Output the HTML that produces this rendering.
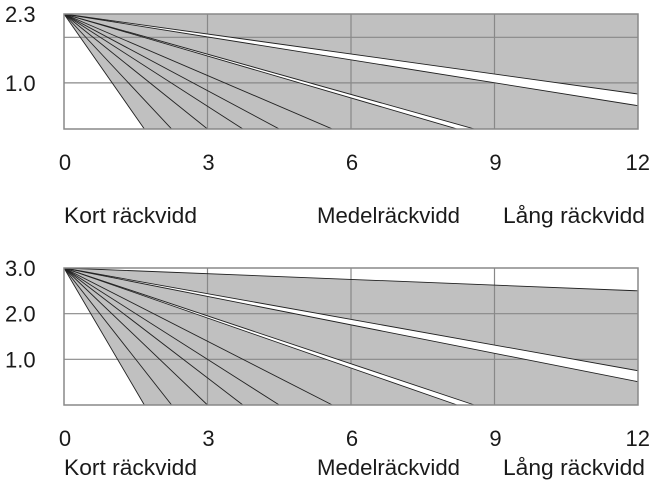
<!DOCTYPE html>
<html><head><meta charset="utf-8"><style>
html,body{margin:0;padding:0;background:#fff;}
svg{display:block;font-family:"Liberation Sans",sans-serif;}
text{fill:#1a1a1a;font-size:22px;}
</style></head><body>
<svg id="c" width="667" height="501" viewBox="0 0 667 501"></svg>
<script>
const xTicks=[0,3,6,9,12];
const topYTicks=[2.3,1.0];
const topGrid=[1.86,1.0];
const topDomain=[0.13,2.3];
const topBottomEnds=[1.68,2.25,3.0,3.74,4.5,5.61,8.22,8.58];
const topRightEnds=[0.79,0.57];
const botYTicks=[3.0,2.0,1.0];
const botDomain=[0,3];
const botBottomEnds=[1.68,2.25,3.0,3.74,4.5,5.61,8.22,8.58];
const botRightEnds=[2.5,0.75,0.51];
const rangeLabels=["Kort räckvidd","Medelräckvidd","Lång räckvidd"];
const NS="http://www.w3.org/2000/svg";
const svg=document.getElementById('c');
function el(t,a,p){const e=document.createElementNS(NS,t);for(const k in a)e.setAttribute(k,a[k]);(p||svg).appendChild(e);return e;}
function chart(name,box,dom,yTicks,grid,bEnds,rEnds,topWhite,tickY,labY){
  const g=el('g',{});
  
  
  const xs=v=>box.x0+(box.x1-box.x0)*v/12;
  const ys=v=>box.y1-(box.y1-box.y0)*(v-dom[0])/(dom[1]-dom[0]);
  const ox=xs(0),oy=box.y0;
  let pts=[[ox,oy]];
  if(topWhite){pts.push([box.x1,ys(rEnds[0])]);}else{pts.push([box.x1,box.y0]);}
  pts.push([box.x1,box.y1]);pts.push([xs(bEnds[0]),box.y1]);
  const f=el('polygon',{points:pts.map(p=>p.join(',')).join(' '),fill:'#c0c0c0'},g);
  
  
  [3,6,9].forEach(v=>{const l=el('line',{x1:xs(v),x2:xs(v),y1:box.y0,y2:box.y1,stroke:'#888','stroke-width':1.2},g);
    
    });
  grid.forEach(v=>{const l=el('line',{x1:box.x0,x2:box.x1,y1:ys(v),y2:ys(v),stroke:'#888','stroke-width':1.2},g);
    
    });
  const n=bEnds.length;
  const b1=el('polygon',{points:`${ox},${oy} ${xs(bEnds[n-2])},${box.y1} ${xs(bEnds[n-1])},${box.y1}`,fill:'#fff'},g);
  
  
  const m=rEnds.length;
  const b2=el('polygon',{points:`${ox},${oy} ${box.x1},${ys(rEnds[m-2])} ${box.x1},${ys(rEnds[m-1])}`,fill:'#fff'},g);
  
  
  bEnds.forEach(v=>{const l=el('line',{x1:ox,y1:oy,x2:xs(v),y2:box.y1,stroke:'#222','stroke-width':0.9},g);
    
    });
  rEnds.forEach(v=>{const l=el('line',{x1:ox,y1:oy,x2:box.x1,y2:ys(v),stroke:'#222','stroke-width':0.9},g);
    
    });
  const r=el('rect',{x:box.x0,y:box.y0,width:box.x1-box.x0,height:box.y1-box.y0,fill:'none',stroke:'#888','stroke-width':1.5},g);
  
  
  yTicks.forEach(v=>{const t=el('text',{x:5,y:ys(v)+8},g);t.textContent=v.toFixed(1);
    
    });
  xTicks.forEach(v=>{const t=el('text',{x:v===12?xs(v)+12:xs(v)+1,y:tickY,'text-anchor':v===12?'end':'middle'},g);t.textContent=v;
    
    });
  const lx=[64,317,503];
  const lw=[133,143,142];
  rangeLabels.forEach((s,i)=>{const t=el('text',{x:lx[i],y:labY,textLength:lw[i],lengthAdjust:'spacingAndGlyphs'},g);t.textContent=s;
    
    });
}
chart('top-chart',{x0:64,x1:638,y0:14,y1:129},topDomain,topYTicks,topGrid,topBottomEnds,topRightEnds,false,170,223);
chart('bottom-chart',{x0:64,x1:638,y0:268,y1:405},botDomain,botYTicks,[2.0,1.0],botBottomEnds,botRightEnds,true,446,475);
</script>
</body></html>
